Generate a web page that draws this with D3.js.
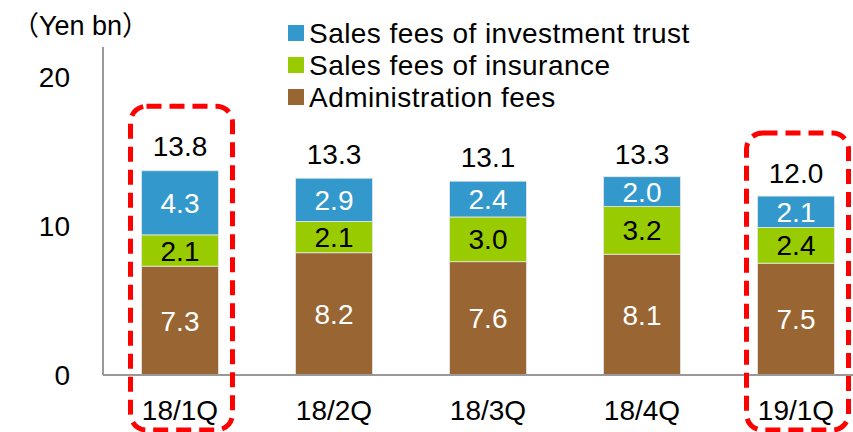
<!DOCTYPE html>
<html>
<head>
<meta charset="utf-8">
<script src="https://cdn.jsdelivr.net/npm/d3@7"></script>
<style>
  body { margin: 0; background: #fff; }
  svg { display: block; font-family: "Liberation Sans", Arial, sans-serif; }
</style>
</head>
<body>
<div id="chart"></div>
<script>
var categories = ["18/1Q", "18/2Q", "18/3Q", "18/4Q", "19/1Q"];
var adminFees = [7.3, 8.2, 7.6, 8.1, 7.5];
var insuranceFees = [2.1, 2.1, 3.0, 3.2, 2.4];
var trustFees = [4.3, 2.9, 2.4, 2.0, 2.1];
var totals = [13.8, 13.3, 13.1, 13.3, 12.0];
var yTicks = [0, 10, 20];
var highlighted = ["18/1Q", "19/1Q"];

var width = 853, height = 432;
var margin = {top: 47, left: 103, bottom: 57};
var fontSize = 28;

var series = [
    {name: "Administration fees", values: adminFees, color: "#996633", text: "#fff"},
    {name: "Sales fees of insurance", values: insuranceFees, color: "#99cc00", text: "#000"},
    {name: "Sales fees of investment trust", values: trustFees, color: "#3399cc", text: "#fff"}
];

var svg = d3.select("#chart").append("svg")
    .attr("width", width)
    .attr("height", height);

var x = d3.scaleBand()
    .domain(categories)
    .range([margin.left, margin.left + 770])
    .paddingInner(0.5)
    .paddingOuter(0.25);

var y = d3.scaleLinear()
    .domain([0, 22])
    .range([height - margin.bottom, margin.top]);

// stacked data
var rows = categories.map(function (c, i) {
    var r = {cat: c};
    series.forEach(function (s) { r[s.name] = s.values[i]; });
    return r;
});
var stack = d3.stack().keys(series.map(function (s) { return s.name; }));
var layers = stack(rows);

var layer = svg.selectAll("g.layer")
    .data(layers)
    .enter().append("g")
    .attr("class", "layer");

layer.each(function (l, li) {
    var g = d3.select(this);
    g.selectAll("rect")
        .data(l)
        .enter().append("rect")
        .attr("x", function (d) { return x(d.data.cat); })
        .attr("width", x.bandwidth())
        .attr("y", function (d) { return y(d[1]); })
        .attr("height", function (d) { return y(d[0]) - y(d[1]); })
        .attr("fill", series[li].color)
        .attr("stroke", "#e8e8e8")
        .attr("stroke-width", 0.8);
    g.selectAll("text")
        .data(l)
        .enter().append("text")
        .attr("x", function (d) { return x(d.data.cat) + x.bandwidth() / 2; })
        .attr("y", function (d) { return (y(d[0]) + y(d[1])) / 2; })
        .attr("dy", "0.36em")
        .attr("text-anchor", "middle")
        .attr("font-size", fontSize)
        .attr("fill", series[li].text)
        .text(function (d) { return (d[1] - d[0]).toFixed(1); });
});

// totals
svg.selectAll("text.total")
    .data(categories)
    .enter().append("text")
    .attr("class", "total")
    .attr("x", function (d) { return x(d) + x.bandwidth() / 2; })
    .attr("y", function (d, i) { return y(totals[i]) - 23; })
    .attr("dy", "0.36em")
    .attr("text-anchor", "middle")
    .attr("font-size", fontSize)
    .text(function (d, i) { return totals[i].toFixed(1); });

// axes
svg.append("line")
    .attr("x1", margin.left).attr("x2", margin.left)
    .attr("y1", y(22)).attr("y2", y(0))
    .attr("stroke", "#999").attr("stroke-width", 2);
svg.append("line")
    .attr("x1", margin.left).attr("x2", width)
    .attr("y1", y(0)).attr("y2", y(0))
    .attr("stroke", "#999").attr("stroke-width", 2);

svg.selectAll("text.ytick")
    .data(yTicks)
    .enter().append("text")
    .attr("class", "ytick")
    .attr("x", 70)
    .attr("y", function (d) { return y(d); })
    .attr("dy", "0.36em")
    .attr("text-anchor", "end")
    .attr("font-size", fontSize)
    .text(function (d) { return d; });

svg.selectAll("text.xtick")
    .data(categories)
    .enter().append("text")
    .attr("class", "xtick")
    .attr("x", function (d) { return x(d) + x.bandwidth() / 2; })
    .attr("y", 410)
    .attr("dy", "0.36em")
    .attr("text-anchor", "middle")
    .attr("font-size", fontSize)
    .text(function (d) { return d; });

var unit = svg.append("text")
    .attr("x", 12)
    .attr("y", 25)
    .attr("dy", "0.36em")
    .attr("font-size", 27);
unit.append("tspan").attr("font-family", "Noto Sans CJK JP").text("（");
unit.append("tspan").text("Yen bn");
unit.append("tspan").attr("font-family", "Noto Sans CJK JP").text("）");

// legend
var legendItems = series.slice().reverse();
var lg = svg.selectAll("g.legend")
    .data(legendItems)
    .enter().append("g")
    .attr("class", "legend")
    .attr("transform", function (d, i) { return "translate(288," + (33 + i * 32) + ")"; });
lg.append("rect")
    .attr("x", 0).attr("y", -8)
    .attr("width", 16).attr("height", 16)
    .attr("fill", function (d) { return d.color; });
lg.append("text")
    .attr("x", 21)
    .attr("dy", "0.36em")
    .attr("font-size", fontSize)
    .attr("letter-spacing", 0.45)
    .text(function (d) { return d.name; });

// highlight boxes
svg.selectAll("rect.hl")
    .data(highlighted)
    .enter().append("rect")
    .attr("class", "hl")
    .attr("x", function (d) { return x(d) + x.bandwidth() / 2 - 49.5; })
    .attr("y", function (d) { return y(totals[categories.indexOf(d)]) - 63; })
    .attr("width", 102)
    .attr("height", function (d) { return 430 - (y(totals[categories.indexOf(d)]) - 63); })
    .attr("rx", 16)
    .attr("fill", "none")
    .attr("stroke", "#ff0000")
    .attr("stroke-width", 5)
    .attr("stroke-dasharray", "15,8");
</script>
</body>
</html>
